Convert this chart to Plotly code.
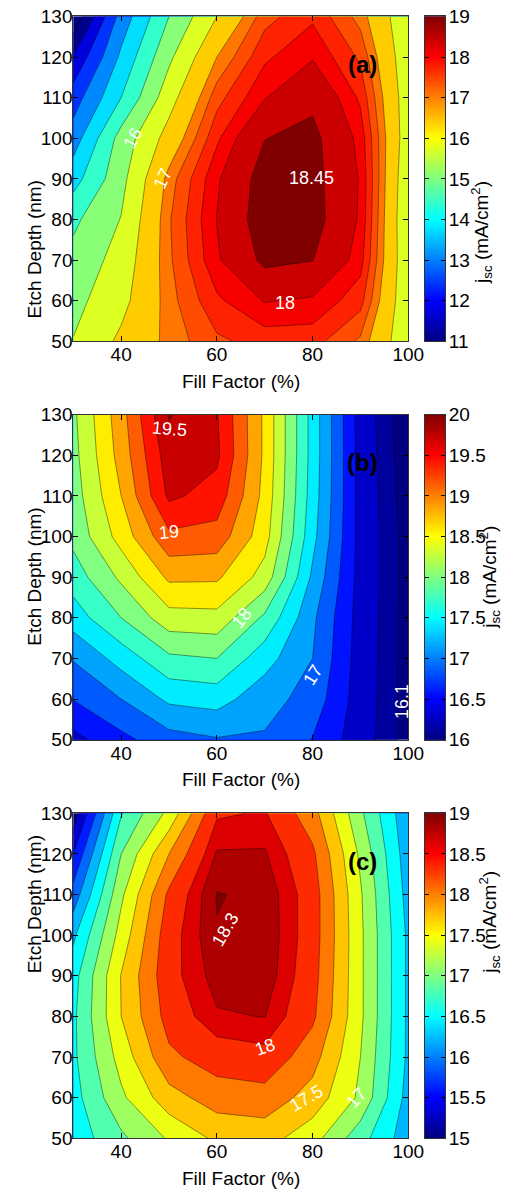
import numpy as np
import plotly.graph_objects as go

# ---------------- data ----------------
fill_factor = [30, 40, 50, 60, 70, 80, 90, 100]
etch_depth = [50, 60, 70, 80, 90, 100, 110, 120, 130]

# rows: etch depth 50 -> 130, columns: fill factor 30 -> 100
jsc_a = [
    [16.02, 16.60, 17.10, 17.45, 17.60, 17.60, 17.20, 16.10],
    [15.85, 16.35, 17.15, 17.70, 18.02, 17.95, 17.60, 16.10],
    [15.65, 16.20, 17.20, 17.95, 18.55, 18.46, 17.85, 16.10],
    [15.40, 16.02, 17.22, 18.01, 18.70, 18.63, 17.95, 16.05],
    [14.80, 15.85, 17.12, 17.95, 18.65, 18.60, 17.97, 16.10],
    [14.25, 15.70, 16.70, 17.70, 18.44, 18.57, 17.90, 16.20],
    [13.75, 15.00, 16.30, 17.40, 17.98, 18.35, 17.70, 16.20],
    [13.05, 14.60, 15.90, 17.00, 17.70, 17.97, 17.45, 16.15],
    [12.10, 14.20, 15.50, 16.50, 17.40, 17.70, 17.15, 16.10],
]
jsc_b = [
    [16.42, 16.68, 16.90, 16.98, 16.97, 16.74, 16.35, 16.03],
    [16.76, 17.00, 17.30, 17.35, 17.10, 16.90, 16.37, 16.02],
    [17.02, 17.35, 17.70, 17.75, 17.35, 17.00, 16.38, 16.02],
    [17.37, 17.75, 18.15, 18.17, 17.70, 17.05, 16.39, 16.02],
    [17.62, 18.05, 18.55, 18.54, 18.15, 17.20, 16.40, 16.02],
    [17.82, 18.35, 18.94, 18.90, 18.35, 17.33, 16.40, 16.02],
    [17.88, 18.50, 19.30, 19.15, 18.42, 17.38, 16.40, 16.00],
    [17.92, 18.60, 19.39, 19.30, 18.45, 17.40, 16.39, 15.98],
    [17.95, 18.65, 19.52, 19.27, 18.45, 17.40, 16.38, 15.97],
]
jsc_c = [
    [16.35, 16.70, 17.03, 17.30, 17.35, 17.10, 16.60, 16.10],
    [16.40, 16.95, 17.40, 17.62, 17.65, 17.40, 16.95, 16.15],
    [16.45, 17.10, 17.70, 17.87, 17.93, 17.60, 17.00, 16.20],
    [16.45, 17.25, 17.85, 18.13, 18.155, 17.80, 17.05, 16.20],
    [16.40, 17.26, 17.92, 18.22, 18.25, 17.85, 17.05, 16.20],
    [16.20, 17.10, 17.90, 18.29, 18.27, 17.88, 17.05, 16.20],
    [15.85, 16.95, 17.80, 18.31, 18.26, 17.88, 17.03, 16.15],
    [15.50, 16.75, 17.50, 18.17, 18.17, 17.80, 16.95, 16.10],
    [15.10, 16.48, 17.07, 17.97, 18.02, 17.60, 16.80, 16.05],
]

levels_a = [12.5, 13, 13.5, 14, 14.5, 15, 15.5, 16, 16.5, 17, 17.25, 17.5, 17.75,
            18, 18.45]
levels_b = [16.1, 16.25, 16.5, 16.75, 17, 17.25, 17.5, 17.75, 18, 18.25, 18.5,
            18.75, 19, 19.25, 19.5]
levels_c = [15.25, 15.5, 15.75, 16, 16.25, 16.5, 16.75, 17, 17.25, 17.5, 17.75,
            18, 18.15, 18.3]

# colour anchors of the filled bands
fill_range_a = [12.45, 18.45]
fill_range_b = [16, 19.5]
fill_range_c = [15, 18.3]

# colorbar ranges and ticks
cbar_range_a = [11, 19]
cbar_range_b = [16, 20]
cbar_range_c = [15, 19]
cbar_ticks_a = [11, 12, 13, 14, 15, 16, 17, 18, 19]
cbar_ticks_b = [16, 16.5, 17, 17.5, 18, 18.5, 19, 19.5, 20]
cbar_ticks_c = [15, 15.5, 16, 16.5, 17, 17.5, 18, 18.5, 19]

x_ticks = [40, 60, 80, 100]
y_ticks = [50, 60, 70, 80, 90, 100, 110, 120, 130]

# contour labels: (text, fill factor, etch depth, angle)
labels_a = [("16", 42.5, 100.0, -62), ("17", 48.8, 90.1, -65),
            ("18.45", 79.8, 90.1, 0), ("18", 74.2, 59.4, 0)]
labels_b = [("19.5", 50.2, 126.4, 5), ("19", 50.1, 101.2, -5),
            ("18", 65.2, 79.9, -50), ("17", 80.1, 65.9, -58),
            ("16.1", 98.6, 59.4, -90)]
labels_c = [("18.3", 61.7, 101.3, -60), ("18", 70.1, 72.5, -20),
            ("17.5", 78.8, 59.8, -30), ("17", 89.2, 59.8, -48)]
panel_tags = ["(a)", "(b)", "(c)"]
cbar_title_px = [497, 505, 505]


# ---------------- helpers ----------------
def jet(t):
    t = max(0.0, min(1.0, t))
    r = max(0.0, min(1.0, 1.5 - abs(4 * t - 3)))
    g = max(0.0, min(1.0, 1.5 - abs(4 * t - 2)))
    b = max(0.0, min(1.0, 1.5 - abs(4 * t - 1)))
    return "rgb(%d,%d,%d)" % (round(r * 255), round(g * 255), round(b * 255))


jet_scale = [[0, jet(0)], [0.125, jet(0.125)], [0.375, jet(0.375)],
             [0.625, jet(0.625)], [0.875, jet(0.875)], [1, jet(1)]]

# the page body adds an 8px offset; figure is sized/positioned to compensate
OFF = 8
W, H = 525 - OFF, 1190 - OFF
PX_L, PX_R = 73.3, 408.3
panel_tops = [16.4, 414.7, 813.3]
PANEL_H = 325.0
CB_L, CB_R = 425.0, 445.0


def fx(px):
    return (px - OFF) / W


def fy(py):
    return 1 - (py - OFF) / H


FONT = "Arial, 'Liberation Sans', Helvetica, sans-serif"
LINE_COL = "#333333"

fig = go.Figure()
panels = [
    (jsc_a, levels_a, fill_range_a, cbar_range_a, cbar_ticks_a, labels_a),
    (jsc_b, levels_b, fill_range_b, cbar_range_b, cbar_ticks_b, labels_b),
    (jsc_c, levels_c, fill_range_c, cbar_range_c, cbar_ticks_c, labels_c),
]

annotations = []
for i, (z, levels, frange, crange, cticks, labs) in enumerate(panels):
    n = i + 1
    xa = "x" if n == 1 else "x%d" % n
    ya = "y" if n == 1 else "y%d" % n
    cxa, cya = "x%d" % (n + 3), "y%d" % (n + 3)
    top = panel_tops[i]
    y0 = fy(top + PANEL_H)
    y1 = fy(top)
    lo, hi = frange
    # filled contour bands (each trace shades the region above its level)
    for L in levels:
        fig.add_trace(go.Contour(
            x=fill_factor, y=etch_depth, z=z,
            contours=dict(type="constraint", operation="<", value=L),
            fillcolor=jet((L - lo) / (hi - lo)),
            line=dict(color="rgba(0,0,0,0.7)", width=0.6, smoothing=0),
            showscale=False, hoverinfo="skip",
            xaxis=xa, yaxis=ya,
        ))
    # continuous colorbar drawn as a thin heatmap in its own axes
    cb_vals = np.linspace(crange[0], crange[1], 256)
    fig.add_trace(go.Heatmap(
        x=[0], y=cb_vals, z=[[v] for v in cb_vals], colorscale=jet_scale,
        zmin=crange[0], zmax=crange[1], showscale=False, hoverinfo="skip",
        xaxis=cxa, yaxis=cya,
    ))
    axis_common = dict(showline=True, linecolor=LINE_COL, linewidth=1, mirror="ticks",
                       ticks="inside", ticklen=5, tickcolor="black", showgrid=False,
                       zeroline=False, automargin=False, ticklabelstandoff=-4,
                       ticklabeloverflow="allow",
                       tickfont=dict(family=FONT, size=19, color="black"))
    fig.layout["xaxis" if n == 1 else "xaxis%d" % n] = dict(
        domain=[fx(PX_L), fx(PX_R)], range=[30, 100], tickvals=x_ticks,
        anchor=ya, **axis_common)
    fig.layout["yaxis" if n == 1 else "yaxis%d" % n] = dict(
        domain=[y0, y1], range=[50, 130], tickvals=y_ticks, anchor=xa, **axis_common)
    fig.layout["xaxis%d" % (n + 3)] = dict(
        domain=[fx(CB_L), fx(CB_R)], range=[-0.5, 0.5], showticklabels=False,
        ticks="", showline=True, linecolor=LINE_COL, mirror=True, showgrid=False,
        zeroline=False, automargin=False, anchor=cya)
    fig.layout["yaxis%d" % (n + 3)] = dict(
        domain=[y0, y1], range=crange, tickvals=cticks, side="right", anchor=cxa,
        showline=True, linecolor=LINE_COL, linewidth=1, mirror="ticks",
        ticks="inside", ticklen=4, tickcolor="black", showgrid=False, zeroline=False,
        automargin=False, ticklabelstandoff=-1, ticklabeloverflow="allow",
        tickfont=dict(family=FONT, size=19, color="black"))

    for text, lx, ly, ang in labs:
        annotations.append(dict(x=lx, y=ly, xref=xa, yref=ya, text=text, showarrow=False,
                                textangle=ang, font=dict(family=FONT, size=18, color="white")))
    annotations.append(dict(x=90.4, y=118.2, xref=xa, yref=ya, text="<b>%s</b>" % panel_tags[i],
                            showarrow=False, font=dict(family=FONT, size=24, color="black")))
    annotations.append(dict(x=fx((PX_L + PX_R) / 2), y=fy(top + PANEL_H + 40),
                            xref="paper", yref="paper", yanchor="middle",
                            text="Fill Factor (%)", showarrow=False,
                            font=dict(family=FONT, size=19, color="black")))
    annotations.append(dict(x=fx(22), y=(y0 + y1) / 2, xref="paper", yref="paper",
                            text="Etch Depth (nm)", showarrow=False, textangle=-90,
                            font=dict(family=FONT, size=19, color="black")))
    annotations.append(dict(x=fx(cbar_title_px[i]), y=(y0 + y1) / 2, xref="paper",
                            yref="paper", text="j<sub>sc</sub> (mA/cm<sup>2</sup>)",
                            showarrow=False, textangle=-90,
                            font=dict(family=FONT, size=19, color="black")))

fig.update_layout(
    width=W, height=H, margin=dict(l=0, r=0, t=0, b=0),
    paper_bgcolor="white", plot_bgcolor=jet(0), showlegend=False,
    annotations=annotations,
)
fig.write_html("out.html")
